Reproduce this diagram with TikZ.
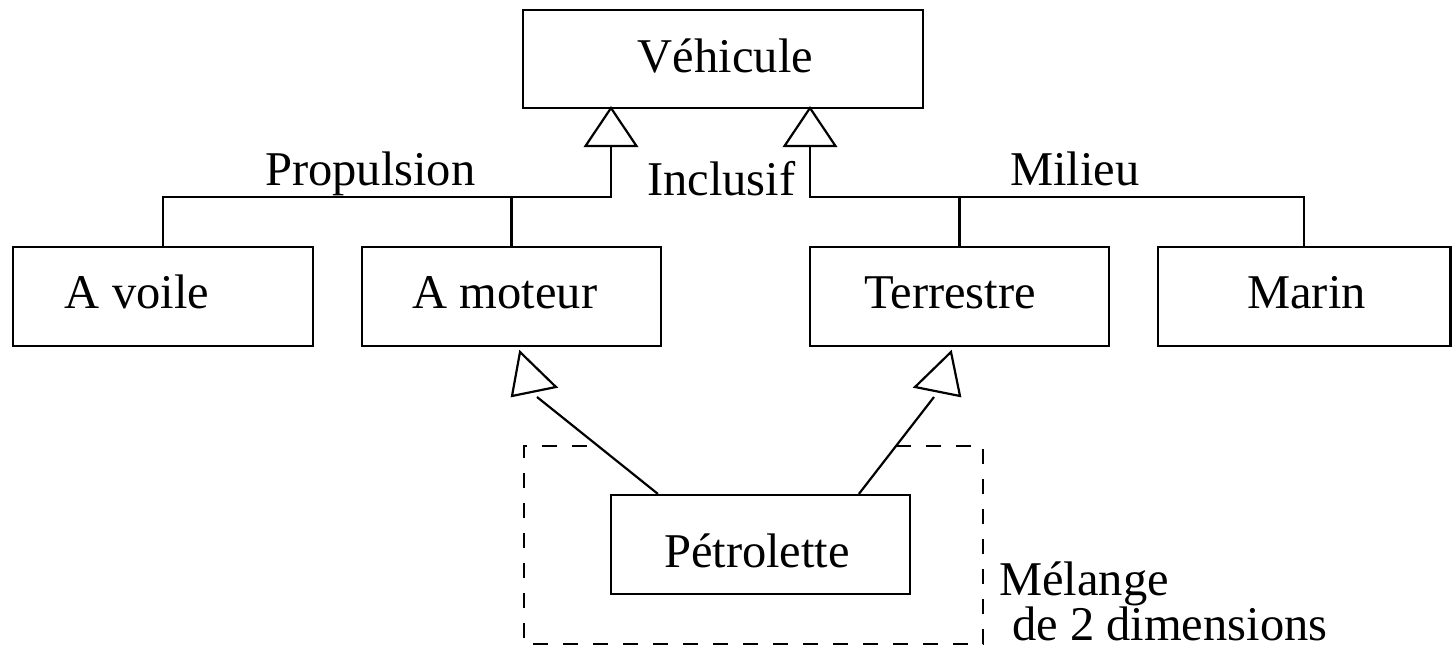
\documentclass[tikz,border=0pt]{standalone}
\usepackage{fontspec}
\setmainfont{Liberation Serif}
\usetikzlibrary{calc}
\begin{document}
\begin{tikzpicture}[x=1pt,y=-1pt,
  box/.style={draw,line width=2.2pt,rectangle,inner sep=0pt},
  lbl/.style={inner sep=0pt,font=\fontsize{48.5}{58}\selectfont},
  conn/.style={line width=2.2pt},
  tri/.style={line width=2.2pt,fill=white,line join=miter},
  grp/.style={line width=2pt,dash pattern=on 15pt off 15pt}]
\useasboundingbox (0,0) rectangle (1452,648);
% boxes
\node[box,minimum width=400pt,minimum height=98pt] (veh) at (723,59) {};
\node[box,minimum width=300pt,minimum height=99pt] (voile) at (163,296.5) {};
\node[box,minimum width=299pt,minimum height=99pt] (moteur) at (511.5,296.5) {};
\node[box,minimum width=299pt,minimum height=99pt] (terre) at (959.5,296.5) {};
\node[box,minimum width=292.5pt,minimum height=99pt] (marin) at (1304.25,296.5) {};
\node[box,minimum width=299pt,minimum height=99pt] (petro) at (760.5,544.5) {};
% labels in boxes
\node[lbl,anchor=base] (vehT) at (725.5,72) {Véhicule};
\node[lbl,anchor=base] (voileT) at (137,308) {A voile};
\node[lbl,anchor=base] (moteurT) at (505,308) {A moteur};
\node[lbl,anchor=base] (terreT) at (950,308) {Terrestre};
\node[lbl,anchor=base] (marinT) at (1306.5,308) {Marin};
\node[lbl,anchor=base] (petroT) at (757,567) {Pétrolette};
% other labels
\node[lbl,anchor=base west] (prop) at (265,185) {Propulsion};
\node[lbl,anchor=base west] (incl) at (647,195) {Inclusif};
\node[lbl,anchor=base west] (mil) at (1010,185) {Milieu};
\node[lbl,anchor=base west] (mel1) at (999,595) {Mélange};
\node[lbl,anchor=base west] (mel2) at (1012,640) {de 2 dimensions};
% coordinates
\coordinate (jl) at (611,197);
\coordinate (jr) at (810,197);
\coordinate (tl) at (611,146);
\coordinate (tr) at (810,146);
\coordinate (dl) at (537,397);
\coordinate (dr) at (934,397);
% generalisation trees
\draw[conn] (tl) -- (jl) -| (voile.north);
\draw[conn] (jl -| moteur.north) -- (moteur.north);
\draw[conn] (tr) -- (jr) -| (marin.north);
\draw[conn] (jr -| terre.north) -- (terre.north);
\draw[tri] (611,108) -- (585.5,146) -- (636.5,146) -- cycle;
\draw[tri] (810,108) -- (784.5,146) -- (835.5,146) -- cycle;
% diagonal generalisations
\draw[conn] ($(petro.north west)+(48,0)$) -- (dl);
\draw[conn] ($(petro.north west)+(249,0)$) -- (dr);
\draw[tri] (520,352) -- (512,396) -- (556,387) -- cycle;
\draw[tri] (951,352) -- (915,387) -- (960,396) -- cycle;
% dashed group
\draw[grp] (587,446) -- (524,446) -- (524,644) -- (983,644) -- (983,446) -- (884,446);
\end{tikzpicture}
\end{document}
